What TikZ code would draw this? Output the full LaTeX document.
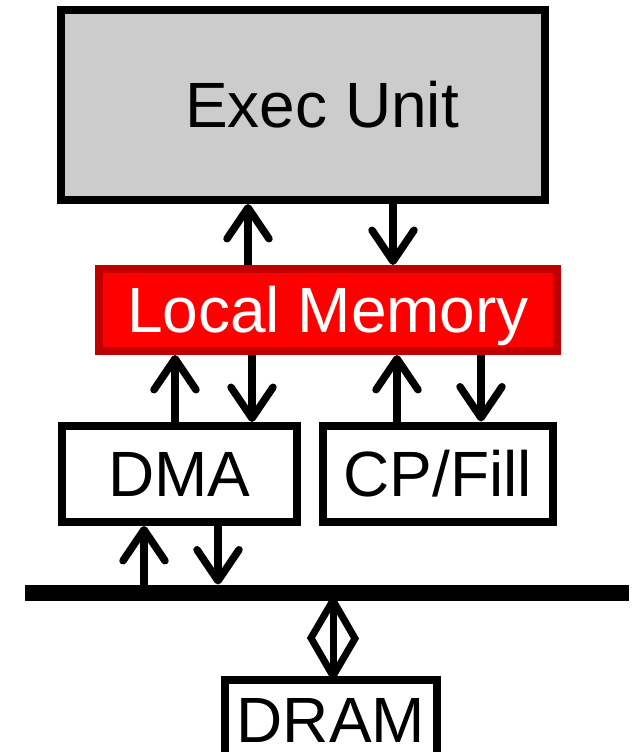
\documentclass[tikz,border=0pt]{standalone}
\usepackage{fontspec}
\setmainfont{Liberation Sans}
\usetikzlibrary{arrows.meta}
\definecolor{execgray}{HTML}{CCCCCC}
\definecolor{lmred}{HTML}{FF0000}
\definecolor{lmborder}{HTML}{C00000}
\begin{document}
\begin{tikzpicture}[x=1pt,y=-1pt,
  box/.style={draw=black, line width=8pt, fill=white, inner sep=0pt,
    font=\fontsize{64}{72}\selectfont, text height=45.8pt, text depth=0pt},
  arr/.style={line width=7.5pt, -{Straight Barb[length=31pt, width=42pt, round]}},
  dline/.style={line width=7pt, line join=miter}
]
\useasboundingbox (0,0) rectangle (641,752);
% nodes
\node[box, fill=execgray, minimum width=484pt, minimum height=190pt] (exec) at (303,105) {\hspace*{38pt}Exec Unit};
\node[box, fill=lmred, draw=lmborder, text=white, minimum width=458pt, minimum height=82pt] (lm) at (328,310) {Local Memory};
\node[box, minimum width=235pt, minimum height=96pt] (dma) at (179.5,474) {DMA};
\node[box, minimum width=230pt, minimum height=96pt] (cp) at (438,473.5) {CP/Fill};
\node[box, minimum width=211.5pt, minimum height=79pt] (dram) at (331,719.5) {DRAM};
\node[fill=black, inner sep=0pt, outer sep=0pt, minimum width=604pt, minimum height=16pt] (bus) at (327,592.5) {};
% x positions of connectors
\coordinate (x1) at (248,0);
\coordinate (x2) at (393,0);
\coordinate (x3) at (175,0);
\coordinate (x4) at (252,0);
\coordinate (x5) at (397,0);
\coordinate (x6) at (481,0);
\coordinate (x7) at (144,0);
\coordinate (x8) at (218,0);
\coordinate (x9) at (333,0);
% exec <-> local memory
\draw[arr] (lm.north -| x1) -- (exec.south -| x1);
\draw[arr] (exec.south -| x2) -- (lm.north -| x2);
% local memory <-> DMA
\draw[arr] (dma.north -| x3) -- (lm.south -| x3);
\draw[arr] (lm.south -| x4) -- (dma.north -| x4);
% local memory <-> CP/Fill
\draw[arr] (cp.north -| x5) -- (lm.south -| x5);
\draw[arr] (lm.south -| x6) -- (cp.north -| x6);
% DMA <-> bus
\draw[arr] (bus.north -| x7) -- (dma.south -| x7);
\draw[arr] (dma.south -| x8) -- (bus.north -| x8);
% bus <-> DRAM (diamond)
\draw[dline] (bus.south -| x9) -- (dram.north -| x9);
\draw[dline] (bus.south -| x9) -- ++(22,38) -- (dram.north -| x9) -- ++(-22,-38) -- cycle;
\end{tikzpicture}
\end{document}
